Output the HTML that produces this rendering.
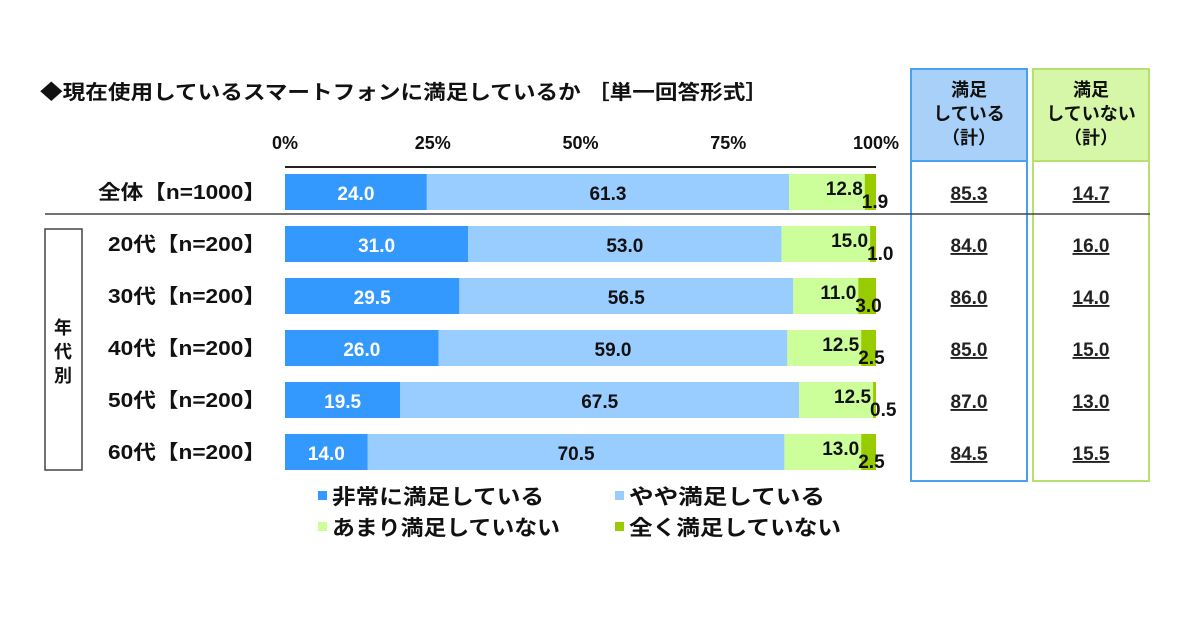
<!DOCTYPE html>
<html><head><meta charset="utf-8"><style>
body{margin:0;background:#fff;}
svg text{font-family:"Liberation Sans","Noto Sans CJK JP",sans-serif;font-weight:bold;}
</style></head><body>
<svg id="c" width="1200" height="630" xmlns="http://www.w3.org/2000/svg"></svg>
<script>
const categories=["全体【n=1000】","20代【n=200】","30代【n=200】","40代【n=200】","50代【n=200】","60代【n=200】"];
const verySat=[24.0,31.0,29.5,26.0,19.5,14.0];
const someSat=[61.3,53.0,56.5,59.0,67.5,70.5];
const notVery=[12.8,15.0,11.0,12.5,12.5,13.0];
const notAtAll=[1.9,1.0,3.0,2.5,0.5,2.5];
const satTotal=["85.3","84.0","86.0","85.0","87.0","84.5"];
const unsatTotal=["14.7","16.0","14.0","15.0","13.0","15.5"];
const ticks=["0%","25%","50%","75%","100%"];
const seriesNames=["非常に満足している","やや満足している","あまり満足していない","全く満足していない"];
const colors=["#3399ff","#99ccff","#ccff99","#99cc00"];
const svg=document.getElementById('c');const NS='http://www.w3.org/2000/svg';
function el(t,a,txt){const e=document.createElementNS(NS,t);for(const k in a)e.setAttribute(k,a[k]);if(txt!==undefined)e.textContent=txt;svg.appendChild(e);return e;}
const X0=285,X1=876;const x=v=>X0+(X1-X0)*v/100;
const rowY=i=>192+i*52;const BH=36;
let t=el('text',{x:40,y:99,'font-size':20,fill:'#111',textLength:728,lengthAdjust:'spacingAndGlyphs'},'◆現在使用しているスマートフォンに満足しているか ［単一回答形式］');

ticks.forEach((s,i)=>{const e=el('text',{x:x(i*25),y:149,'font-size':18,'text-anchor':'middle',fill:'#111'},s);
});
let ax=el('line',{x1:X0,y1:167,x2:X1,y2:167,stroke:'#222','stroke-width':2});

let b1=el('rect',{x:911,y:69,width:116,height:92,fill:'#a8d0f8',stroke:'#4aa0f0','stroke-width':2});

let b2=el('rect',{x:1033,y:69,width:116,height:92,fill:'#d6f7a8',stroke:'#b8e070','stroke-width':2});

let bb1=el('rect',{x:911,y:161,width:116,height:320,fill:'none',stroke:'#4aa0f0','stroke-width':2});

let bb2=el('rect',{x:1033,y:161,width:116,height:320,fill:'none',stroke:'#b8e070','stroke-width':2});

[["満足","している","（計）",969],["満足","していない","（計）",1091]].forEach(h=>{
 [0,1,2].forEach(j=>{const e=el('text',{x:h[3],y:96+j*24,'font-size':18,'text-anchor':'middle',fill:'#111'},h[j]);
 });});
let sep=el('line',{x1:45,y1:214,x2:1150,y2:214,stroke:'#444','stroke-width':1.5});

let gb=el('rect',{x:45,y:229,width:37,height:241,fill:'none',stroke:'#444','stroke-width':1.5});

["年","代","別"].forEach((c,j)=>{const e=el('text',{x:63,y:334+j*24,'font-size':18,'text-anchor':'middle',fill:'#111'},c);
});
const series=[verySat,someSat,notVery,notAtAll];
categories.forEach((cat,i)=>{
 const cy=rowY(i);
 const l=el('text',{x:266,y:cy+7,'font-size':20,'text-anchor':'end',fill:'#111',textLength:i==0?168:158,lengthAdjust:'spacingAndGlyphs'},cat);
 
 let acc=0;
 series.forEach((s,k)=>{const v=s[i];
  const r=el('rect',{x:x(acc),y:cy-BH/2,width:x(acc+v)-x(acc),height:BH,fill:colors[k]});
  
  let tx,ty=cy+8,anchor='middle',fill=k==0?'#fff':'#111';
  if(k<2){tx=(x(acc)+x(acc+v))/2;}
  else if(k==2){tx=x(acc+v)-2;anchor='end';ty=cy+3;}
  else{tx=x(acc)-3;anchor='start';ty=cy+16;}
  const vt=el('text',{x:tx,y:ty,'font-size':19,'text-anchor':anchor,fill:fill,'font-weight':k==0?'bold':'normal'},v.toFixed(1));
  
  acc+=v;});
 const s1=el('text',{x:969,y:cy+8,'font-size':19,'text-anchor':'middle',fill:'#222','text-decoration':'underline','font-weight':'normal'},satTotal[i]);
 
 const s2=el('text',{x:1091,y:cy+8,'font-size':19,'text-anchor':'middle',fill:'#222','text-decoration':'underline','font-weight':'normal'},unsatTotal[i]);
 
});
const lp=[[318,497],[615,497],[318,528],[615,528]];
const lw=[212,196,228,212];
seriesNames.forEach((n,k)=>{
 const r=el('rect',{x:lp[k][0],y:lp[k][1]-6,width:9,height:9,fill:colors[k]});
 
 const e=el('text',{x:lp[k][0]+14,y:lp[k][1]+7,'font-size':21,fill:'#111',textLength:lw[k],lengthAdjust:'spacingAndGlyphs'},n);
 
});
</script>
</body></html>
